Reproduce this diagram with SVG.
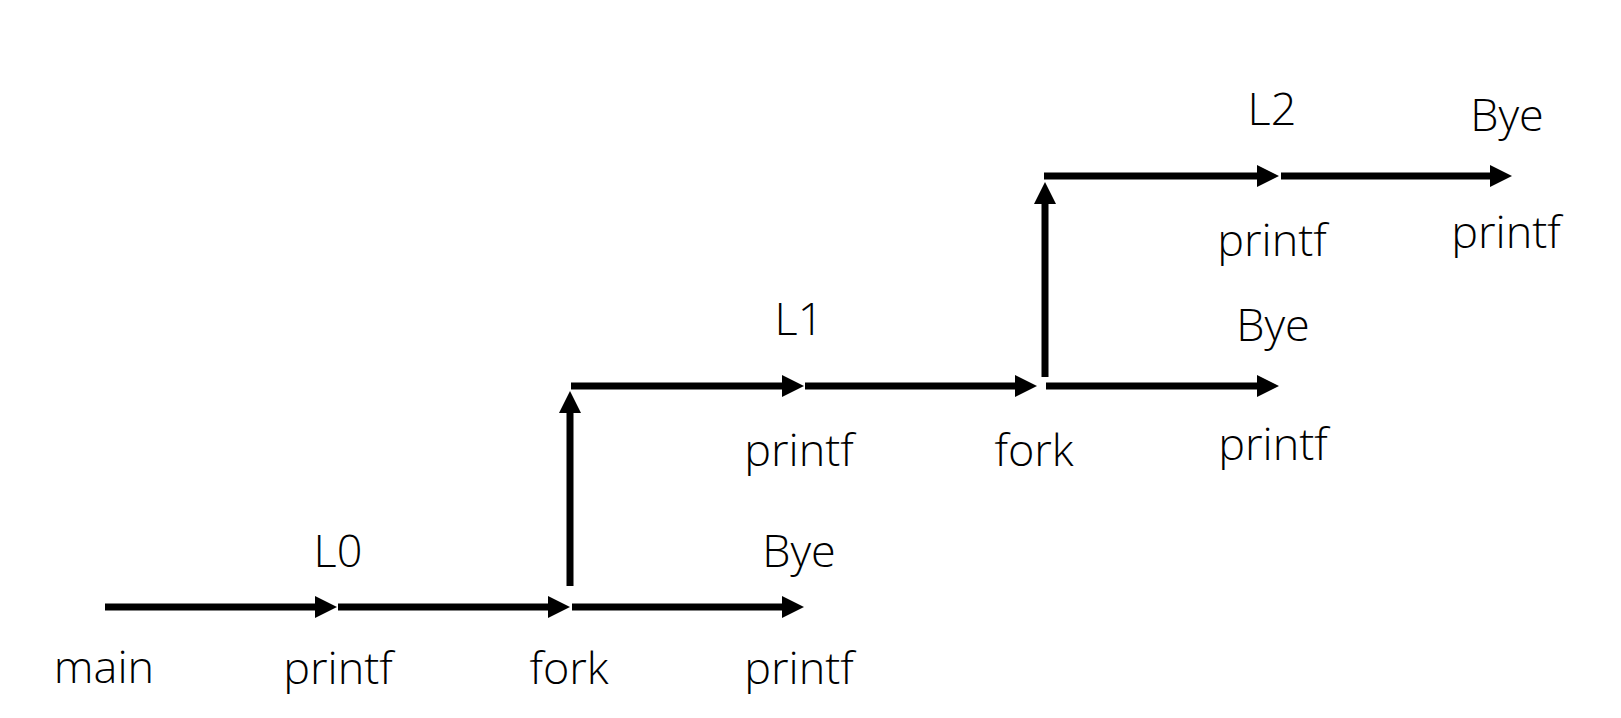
<svg xmlns="http://www.w3.org/2000/svg" width="1621" height="718" viewBox="0 0 1621 718">
  <style>
    .lbl { font-family: "Open Sans", "Noto Sans", "Liberation Sans", sans-serif; font-size: 45px; font-weight: 300; fill: #000; text-anchor: middle; }
    .edge { stroke: #000; stroke-width: 7; fill: none; marker-end: url(#arrow); }
  </style>
  <defs>
    <marker id="arrow" markerUnits="userSpaceOnUse" markerWidth="24" markerHeight="24" viewBox="0 -12 24 24" refX="0" refY="0" orient="auto" overflow="visible">
      <path d="M0,-11 L22,0 L0,11 Z" fill="#000"/>
    </marker>
  </defs>
  <rect width="1621" height="718" fill="#fff"/>

  <g id="connectors">
    <line class="edge" x1="105" y1="607" x2="315" y2="607"/>
    <line class="edge" x1="338" y1="607" x2="548" y2="607"/>
    <line class="edge" x1="572" y1="607" x2="782" y2="607"/>
    <line class="edge" x1="570" y1="586" x2="570" y2="413"/>
    <line class="edge" x1="571" y1="386" x2="782" y2="386"/>
    <line class="edge" x1="805" y1="386" x2="1015" y2="386"/>
    <line class="edge" x1="1046" y1="386" x2="1257" y2="386"/>
    <line class="edge" x1="1045" y1="377" x2="1045" y2="204"/>
    <line class="edge" x1="1044" y1="176" x2="1257" y2="176"/>
    <line class="edge" x1="1281" y1="176" x2="1490" y2="176"/>
  </g>

  <g id="main"><text class="lbl" x="104" y="683">main</text></g>
  <g id="printf-L0"><text class="lbl" x="338" y="567">L0</text><text class="lbl" x="338" y="684">printf</text></g>
  <g id="fork-1"><text class="lbl" x="569" y="684">fork</text></g>
  <g id="bye-1"><text class="lbl" x="799" y="567">Bye</text><text class="lbl" x="799" y="684">printf</text></g>
  <g id="printf-L1"><text class="lbl" x="799" y="335">L1</text><text class="lbl" x="799" y="466">printf</text></g>
  <g id="fork-2"><text class="lbl" x="1034" y="466">fork</text></g>
  <g id="bye-2"><text class="lbl" x="1273" y="341">Bye</text><text class="lbl" x="1273" y="460">printf</text></g>
  <g id="printf-L2"><text class="lbl" x="1272" y="125">L2</text><text class="lbl" x="1272" y="256">printf</text></g>
  <g id="bye-3"><text class="lbl" x="1507" y="131">Bye</text><text class="lbl" x="1506" y="248">printf</text></g>
</svg>
